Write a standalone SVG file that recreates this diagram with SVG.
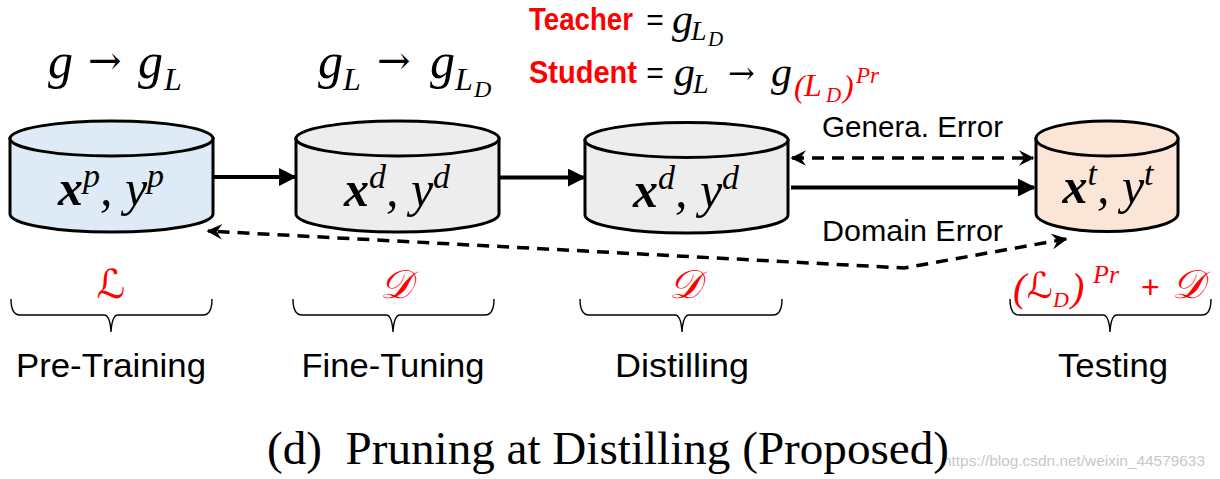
<svg xmlns="http://www.w3.org/2000/svg" width="1220" height="479" viewBox="0 0 1220 479">
<style>
.m{font-family:"Liberation Serif","DejaVu Serif",serif;font-style:italic;fill:#000}
.arr{font-family:"DejaVu Serif","DejaVu Sans",serif;fill:#000}
.cal{font-family:"DejaVu Serif","DejaVu Sans","Liberation Serif",serif;font-style:italic;fill:#ff0000}
.sans{font-family:"Liberation Sans","Open Sans",sans-serif;fill:#000}
.red{fill:#ff0000}
.cyl{stroke:#000;stroke-width:3}
.brace{fill:none;stroke:#000;stroke-width:1.4}
.solid{stroke:#000;stroke-width:4;fill:none}
.dash{stroke:#000;stroke-width:3.5;fill:none;stroke-dasharray:12 8}
</style>
<defs>
<marker id="tri" viewBox="0 0 10 10" refX="9" refY="5" markerWidth="4.5" markerHeight="4.5" markerUnits="strokeWidth" orient="auto"><path d="M0,0 L10,5 L0,10 Z" fill="#000"/></marker>
<marker id="stl" viewBox="0 0 10 10" refX="9" refY="5" markerWidth="4.5" markerHeight="4.5" markerUnits="strokeWidth" orient="auto-start-reverse"><path d="M0,0 L10,5 L0,10 L3.5,5 Z" fill="#000"/></marker>
</defs>

<g id="formula-pretrain">
<text class="m" x="48" y="78" font-size="50">g</text>
<text class="arr" x="88" y="74" font-size="40">→</text>
<text class="m" x="138" y="78" font-size="50">g</text>
<text class="m" x="164" y="90" font-size="32">L</text>
</g>
<g id="formula-finetune">
<text class="m" x="318" y="78" font-size="50">g</text>
<text class="m" x="343" y="90" font-size="32">L</text>
<text class="arr" x="377" y="74" font-size="40">→</text>
<text class="m" x="430" y="78" font-size="50">g</text>
<text class="m" x="455" y="90" font-size="32">L</text>
<text class="m" x="474" y="97" font-size="24">D</text>
</g>
<g id="formula-distill">
<text class="sans red" x="529" y="30" font-size="31" font-weight="bold" textLength="104" lengthAdjust="spacingAndGlyphs">Teacher</text>
<text class="sans" x="655" y="30" font-size="30" text-anchor="middle">=</text>
<text class="m" x="672" y="33" font-size="42">g</text>
<text class="m" x="691" y="40" font-size="28">L</text>
<text class="m" x="708" y="46" font-size="21">D</text>
<text class="sans red" x="529" y="83" font-size="31" font-weight="bold" textLength="108" lengthAdjust="spacingAndGlyphs">Student</text>
<text class="sans" x="655" y="83" font-size="30" text-anchor="middle">=</text>
<text class="m" x="674" y="86" font-size="42">g</text>
<text class="m" x="693" y="93" font-size="28">L</text>
<text class="arr" x="728" y="84" font-size="32">→</text>
<text class="m" x="771" y="86" font-size="42">g</text>
<text class="m red" x="794" y="97" font-size="32" font-style="normal">(</text>
<text class="m red" x="804" y="96" font-size="32">L</text>
<text class="m red" x="826" y="102" font-size="21">D</text>
<text class="m red" x="843" y="97" font-size="32" font-style="normal">)</text>
<text class="m red" x="856" y="83" font-size="23">Pr</text>
</g>

<g id="connectors">
<line class="solid" x1="213" y1="177" x2="295" y2="177" marker-end="url(#tri)"/>
<line class="solid" x1="499" y1="177.5" x2="584" y2="177.5" marker-end="url(#tri)"/>
<line class="solid" x1="791" y1="187.5" x2="1034" y2="187.5" marker-end="url(#tri)"/>
<line class="dash" x1="792" y1="158" x2="1033" y2="158" marker-start="url(#stl)" marker-end="url(#stl)"/>
<path class="dash" d="M1066,239 L904,268 L208,231" marker-start="url(#stl)" marker-end="url(#stl)"/>
<text class="sans" x="822" y="137" font-size="29" textLength="181" lengthAdjust="spacingAndGlyphs">Genera. Error</text>
<text class="sans" x="822" y="241" font-size="29" textLength="181" lengthAdjust="spacingAndGlyphs">Domain Error</text>
</g>

<g id="node-pretraining">
<path class="cyl" fill="#deebf7" d="M10,138.5 L10,214 A101.5,18 0 0 0 213,214 L213,138.5 Z"/>
<ellipse class="cyl" fill="#deebf7" cx="111.5" cy="138.5" rx="101.5" ry="17.5"/>
<text class="m" x="111" y="205" font-size="50" text-anchor="middle"><tspan font-weight="bold">x</tspan><tspan font-size="34" dy="-18">p</tspan><tspan dy="18">, y</tspan><tspan font-size="34" dy="-18">p</tspan></text>
</g>
<g id="node-finetuning">
<path class="cyl" fill="#ededed" d="M296,138.5 L296,214 A101.5,18 0 0 0 499,214 L499,138.5 Z"/>
<ellipse class="cyl" fill="#ededed" cx="397.5" cy="138.5" rx="101.5" ry="17.5"/>
<text class="m" x="397" y="206" font-size="50" text-anchor="middle"><tspan font-weight="bold">x</tspan><tspan font-size="34" dy="-18">d</tspan><tspan dy="18">, y</tspan><tspan font-size="34" dy="-18">d</tspan></text>
</g>
<g id="node-distilling">
<path class="cyl" fill="#ededed" d="M585,140 L585,215 A101.5,18 0 0 0 788,215 L788,140 Z"/>
<ellipse class="cyl" fill="#ededed" cx="686.5" cy="140" rx="101.5" ry="17.5"/>
<text class="m" x="686" y="207" font-size="50" text-anchor="middle"><tspan font-weight="bold">x</tspan><tspan font-size="34" dy="-18">d</tspan><tspan dy="18">, y</tspan><tspan font-size="34" dy="-18">d</tspan></text>
</g>
<g id="node-testing">
<path class="cyl" fill="#fbe5d6" d="M1036,138.5 L1036,213.5 A71,18 0 0 0 1178,213.5 L1178,138.5 Z"/>
<ellipse class="cyl" fill="#fbe5d6" cx="1107" cy="138.5" rx="71" ry="17.5"/>
<text class="m" x="1108" y="203" font-size="50" text-anchor="middle"><tspan font-weight="bold">x</tspan><tspan font-size="34" dy="-18">t</tspan><tspan dy="18">, y</tspan><tspan font-size="34" dy="-18">t</tspan></text>
</g>

<g id="stage-pretraining">
<text class="cal" x="111" y="298" font-size="40" text-anchor="middle">ℒ</text>
<path class="brace" d="M11,299 Q11,315 20,315 L104,315 Q110,315 111,332 Q112,315 118,315 L203,315 Q212,315 212,299"/>
<text class="sans" x="111" y="377" font-size="33" text-anchor="middle" textLength="190" lengthAdjust="spacingAndGlyphs">Pre-Training</text>
</g>
<g id="stage-finetuning">
<text class="cal" x="396" y="298" font-size="40" text-anchor="middle">𝒟</text>
<path class="brace" d="M293,299 Q293,315 302,315 L386,315 Q392,315 393,332 Q394,315 400,315 L485,315 Q494,315 494,299"/>
<text class="sans" x="393" y="377" font-size="33" text-anchor="middle" textLength="183" lengthAdjust="spacingAndGlyphs">Fine-Tuning</text>
</g>
<g id="stage-distilling">
<text class="cal" x="685" y="298" font-size="40" text-anchor="middle">𝒟</text>
<path class="brace" d="M580,299 Q580,315 589,315 L675,315 Q681,315 682,332 Q683,315 689,315 L773,315 Q782,315 782,299"/>
<text class="sans" x="682" y="377" font-size="33" text-anchor="middle" textLength="134" lengthAdjust="spacingAndGlyphs">Distilling</text>
</g>
<g id="stage-testing">
<text class="m red" x="1013" y="301" font-size="40" font-style="normal">(</text>
<text class="cal" x="1027" y="298" font-size="36">ℒ</text>
<text class="m red" x="1053" y="307" font-size="22">D</text>
<text class="m red" x="1071" y="301" font-size="40" font-style="normal">)</text>
<text class="m red" x="1093" y="283" font-size="26">Pr</text>
<text class="sans red" x="1141" y="298" font-size="32">+</text>
<text class="cal" x="1172" y="298" font-size="40">𝒟</text>
<path class="brace" d="M1010,299 Q1010,315 1019,315 L1103,315 Q1109,315 1110,332 Q1111,315 1117,315 L1202,315 Q1211,315 1211,299"/>
<text class="sans" x="1113" y="377" font-size="33" text-anchor="middle" textLength="110" lengthAdjust="spacingAndGlyphs">Testing</text>
</g>

<text x="1205" y="466" font-family="Liberation Sans, sans-serif" font-size="15" fill="#c8c8c8" text-anchor="end" textLength="262" lengthAdjust="spacingAndGlyphs">https://blog.csdn.net/weixin_44579633</text>
<text x="267" y="464" font-family="Liberation Serif, serif" font-size="46" fill="#000" textLength="682" lengthAdjust="spacingAndGlyphs" xml:space="preserve">(d)  Pruning at Distilling (Proposed)</text>
</svg>
